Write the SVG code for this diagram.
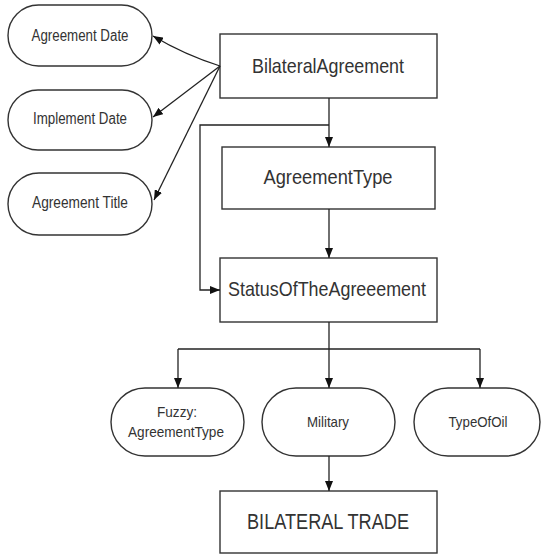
<svg xmlns="http://www.w3.org/2000/svg" width="542" height="554" viewBox="0 0 542 554">
  <style>
    .box { fill: #ffffff; stroke: #333333; stroke-width: 1.4; }
    .lbl { font-family: "Liberation Sans", Arial, sans-serif; fill: #333333; text-anchor: middle; }
    .edge { fill: none; stroke: #222222; stroke-width: 1.3; }
  </style>
  <defs>
    <marker id="arrow" viewBox="0 0 10 10" refX="10" refY="5" markerWidth="10" markerHeight="8" markerUnits="userSpaceOnUse" orient="auto" preserveAspectRatio="none">
      <path d="M0,0 L10,5 L0,10 Z" fill="#111111"/>
    </marker>
  </defs>
  <rect width="542" height="554" fill="#ffffff"/>

  <!-- attribute nodes -->
  <g id="agreement-date">
    <rect class="box" x="8" y="5" width="144" height="61" rx="30.5" ry="30.5"/>
    <text class="lbl" x="80" y="41" font-size="16" textLength="97" lengthAdjust="spacingAndGlyphs">Agreement Date</text>
  </g>
  <g id="implement-date">
    <rect class="box" x="8" y="90" width="144" height="60" rx="30" ry="30"/>
    <text class="lbl" x="80" y="124" font-size="16" textLength="94" lengthAdjust="spacingAndGlyphs">Implement Date</text>
  </g>
  <g id="agreement-title">
    <rect class="box" x="8" y="173" width="144" height="62" rx="31" ry="31"/>
    <text class="lbl" x="80" y="208" font-size="16" textLength="96" lengthAdjust="spacingAndGlyphs">Agreement Title</text>
  </g>

  <!-- main chain -->
  <g id="bilateral-agreement">
    <rect class="box" x="220" y="34" width="217" height="64"/>
    <text class="lbl" x="328" y="73" font-size="21" textLength="152" lengthAdjust="spacingAndGlyphs">BilateralAgreement</text>
  </g>
  <g id="agreement-type">
    <rect class="box" x="222" y="147" width="213" height="62"/>
    <text class="lbl" x="328" y="184" font-size="21" textLength="129" lengthAdjust="spacingAndGlyphs">AgreementType</text>
  </g>
  <g id="status">
    <rect class="box" x="220" y="258" width="217" height="64"/>
    <text class="lbl" x="327" y="296" font-size="21" textLength="198" lengthAdjust="spacingAndGlyphs">StatusOfTheAgreeement</text>
  </g>

  <!-- status values -->
  <g id="fuzzy">
    <rect class="box" x="111" y="388" width="133" height="68" rx="34" ry="34"/>
    <text class="lbl" x="177" y="417" font-size="15" textLength="40" lengthAdjust="spacingAndGlyphs">Fuzzy:</text>
    <text class="lbl" x="176" y="437" font-size="15" textLength="96" lengthAdjust="spacingAndGlyphs">AgreementType</text>
  </g>
  <g id="military">
    <rect class="box" x="262" y="388" width="133" height="68" rx="34" ry="34"/>
    <text class="lbl" x="328" y="427" font-size="15" textLength="42" lengthAdjust="spacingAndGlyphs">Military</text>
  </g>
  <g id="type-of-oil">
    <rect class="box" x="414" y="388" width="126" height="68" rx="34" ry="34"/>
    <text class="lbl" x="478" y="427" font-size="15" textLength="59" lengthAdjust="spacingAndGlyphs">TypeOfOil</text>
  </g>

  <g id="bilateral-trade">
    <rect class="box" x="220" y="491" width="217" height="62"/>
    <text class="lbl" x="328" y="529" font-size="22" textLength="162" lengthAdjust="spacingAndGlyphs">BILATERAL TRADE</text>
  </g>

  <!-- connectors -->
  <g id="connectors">
    <path class="edge" d="M220,66 Q185,55 153,36" marker-end="url(#arrow)"/>
    <path class="edge" d="M220,66 L153,117" marker-end="url(#arrow)"/>
    <path class="edge" d="M220,66 L154,200" marker-end="url(#arrow)"/>
    <path class="edge" d="M329,98 L329,147" marker-end="url(#arrow)"/>
    <path class="edge" d="M329,125 L200,125 L200,290 L220,290" marker-end="url(#arrow)"/>
    <path class="edge" d="M329,209 L329,258" marker-end="url(#arrow)"/>
    <path class="edge" d="M329,322 L329,349"/>
    <path class="edge" d="M178,349 L480,349"/>
    <path class="edge" d="M178,349 L178,388" marker-end="url(#arrow)"/>
    <path class="edge" d="M329,349 L329,388" marker-end="url(#arrow)"/>
    <path class="edge" d="M480,349 L480,388" marker-end="url(#arrow)"/>
    <path class="edge" d="M329,456 L329,491" marker-end="url(#arrow)"/>
  </g>
</svg>
